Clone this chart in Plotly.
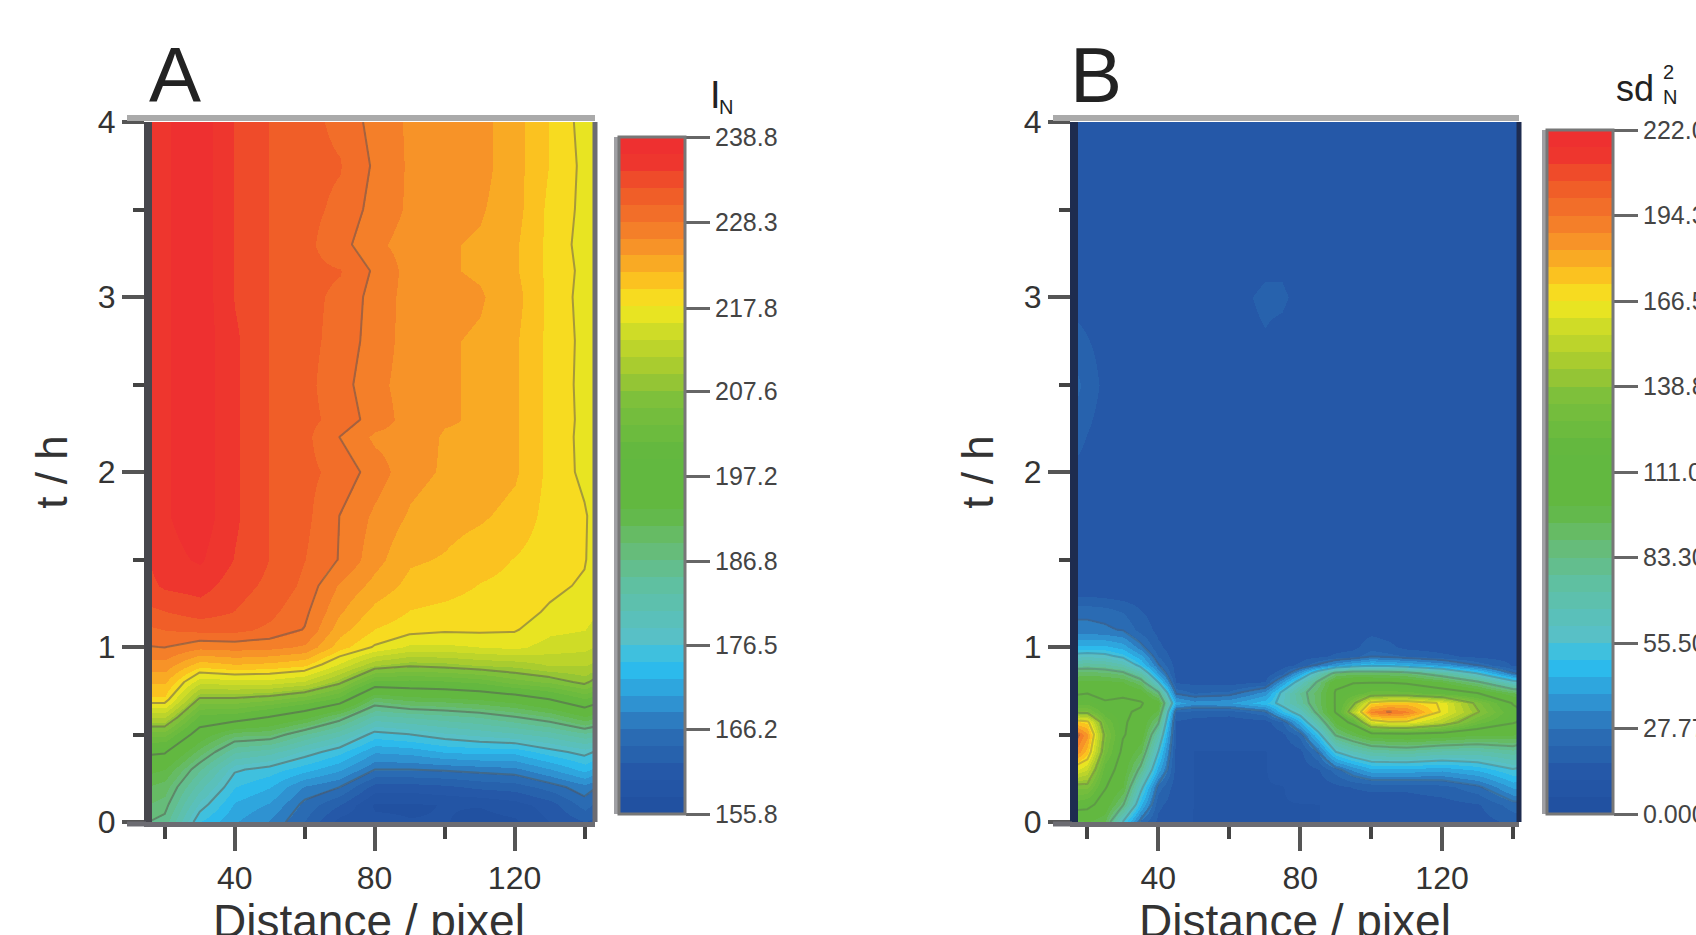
import plotly.graph_objects as go

W, H = 1696, 935
FONT = "Liberation Sans"

# ---- Panel A data: I_N per distance column, rows follow a_t ----
a_t = [0, .1, .2, .3, .4, .5, .6, .7, .8, .9, 1.0, 1.1, 1.2, 1.35, 1.5,
       1.75, 2, 2.2, 2.3, 2.5, 2.75, 3, 3.15, 3.3, 3.5, 3.75, 4]
a_x = [15, 20, 30, 40, 50, 60, 70, 80, 90, 100, 110, 120, 130, 140, 144]
a15 = [187, 189, 191, 194, 198, 204, 212, 219.5, 222.5, 225.5, 228.3, 230, 232, 234, 234.5,
       234.5, 235, 235, 235, 235.5, 235.5, 235, 235, 235, 235, 235, 235]
a20 = [186, 188, 190, 193, 197.7, 204, 212, 219.5, 222.5, 225.5, 228.5, 230.5, 232.5, 235, 236,
       236.5, 236.5, 236.5, 236.5, 236.5, 236.5, 236.5, 236.5, 236.5, 236.5, 236.5, 236.5]
a30 = [174.5, 178, 181.5, 185, 190, 195, 200.5, 207, 214.5, 221, 227, 231, 233.5, 235.5, 237,
       238, 238, 238, 238, 238, 238, 238, 238, 238, 238, 238, 238]
a40 = [170.5, 172, 174.5, 177, 183, 189.5, 200, 207, 215, 222, 227.3, 231, 232.5, 233.5, 234.5,
       235, 235, 235, 235, 235, 235, 234.5, 234.5, 234.5, 234.5, 234.5, 234.5]
a50 = [168, 170, 172.5, 175.5, 181.5, 189, 197.2, 205.8, 215, 221.5, 227, 230, 231, 232, 232.5,
       232.5, 232.5, 232.5, 232.5, 232.5, 232.5, 232.5, 232.5, 232.5, 232.5, 232.5, 232.5]
a60 = [164, 165.5, 168, 173, 178, 184.5, 194, 203.5, 213.5, 220.5, 226, 228.3, 229, 230, 230.5,
       231, 231, 231, 231, 231, 231, 231, 231, 231, 231, 231, 231]
a70 = [159, 162, 166.2, 170.5, 175, 181, 188.5, 200, 208.5, 215.5, 221, 223, 224.5, 226, 228.3,
       228.4, 229.9, 228.4, 229.9, 229.4, 229.9, 230.1, 230.6, 229.3, 230.1, 230.6, 230.1]
a80 = [158.5, 157.5, 161, 166.2, 170.5, 175.5, 182, 189.5, 200.5, 210, 217.8, 220, 221.5, 223.5, 225,
       225.9, 227.4, 225.9, 227.4, 226.9, 227.4, 227.6, 228.1, 226.8, 227.6, 228.1, 227.6]
a90 = [158, 157.5, 161, 166.2, 171, 176.5, 183, 191.5, 200.5, 208.5, 215.5, 219, 220, 221.5, 222.5,
       224, 225, 225.5, 225.5, 225.5, 225.5, 225.5, 225.5, 225.5, 226, 226, 226]
a100 = [158, 158, 161.5, 166.5, 172.5, 178, 184, 192, 201, 209, 215.5, 218.5, 219.5, 221, 222,
        223, 224, 224, 224.5, 224.5, 224.5, 225, 224.5, 224.5, 225, 225, 225]
a110 = [157, 158, 162.5, 167, 173, 179, 185, 193, 202, 210, 216, 218.5, 219, 220, 221,
        222.5, 223.5, 224, 224, 224, 224, 224.5, 224, 224, 224.5, 225, 225]
a120 = [157.5, 159, 163, 167.5, 173, 180, 186.8, 194.5, 204.5, 210.5, 216.5, 218.3, 218.8, 219.5, 220,
        221.5, 222.5, 222.5, 222.5, 222.5, 222.5, 223, 222.5, 222.5, 223, 223, 223]
a130 = [160, 161, 165, 170, 175.5, 181.5, 189, 197.2, 206, 212, 215, 216.5, 217.8, 218.5, 219,
        219.3, 219.5, 219.5, 219.5, 219.5, 219.5, 219.5, 219.5, 219.5, 219.5, 220, 220]
a140 = [162, 165, 167.5, 173, 177.5, 184, 193, 201, 208.5, 212, 214.5, 216, 216.8, 217.8, 218.2,
        218.3, 217.5, 217.4, 217.5, 217.4, 217.5, 217.3, 217.5, 217.2, 217.5, 217.5, 217.2]
a144 = [161, 163, 166, 171, 176, 183, 191, 199, 206, 211, 213.5, 215, 216, 216.5, 217,
        217, 216.5, 216, 216, 216, 216, 216, 216, 216, 216, 216, 216]

# ---- Panel B data: sd2_N per distance column, rows follow b_t ----
b_t = [0, .1, .2, .3, .4, .5, .57, .63, .68, .74, .8, .85, .9, .95, 1, 1.1, 1.2, 1.3, 1.5, 2, 2.5, 3, 3.5, 4]
b_x = [15, 20, 25, 30, 35, 40, 45, 50, 60, 70, 75, 80, 85, 90, 95, 100, 105, 110, 120, 130, 140, 144]
b15 = [95, 120, 135, 165, 195, 205, 175, 135, 118, 108, 100, 90, 75, 58, 45, 30, 26, 16, 12, 16, 26, 14, 14, 12]
b20 = [100, 115, 135, 155, 175, 185, 170, 135, 120, 110, 102, 92, 76, 60, 46, 30, 26, 16, 13, 14, 20, 14, 14, 13]
b25 = [95, 105, 112, 118, 130, 135, 128, 118, 112, 108, 102, 90, 74, 58, 46, 29, 25, 15, 13, 13, 15, 14, 14, 13]
b30 = [55, 85, 100, 105, 108, 112, 112, 112, 112, 110, 100, 86, 68, 52, 42, 27, 22, 14, 13, 13, 14, 14, 14, 13]
b35 = [25, 45, 60, 80, 95, 105, 108, 110, 112, 105, 90, 70, 50, 40, 30, 20, 17, 13, 13, 13, 14, 14, 14, 13]
b40 = [15, 18, 25, 42, 55, 70, 85, 98, 105, 85, 55, 38, 28, 22, 18, 15, 14, 13, 13, 14, 14, 15, 14, 13]
b45 = [12, 13, 13, 14, 14, 15, 16, 22, 42, 26, 16, 14, 14, 13, 13, 13, 13, 13, 13, 14, 14, 15, 14, 14]
b50 = [11, 11, 11, 11, 11, 12, 14, 20, 36, 22, 15, 14, 13, 13, 13, 13, 13, 13, 14, 14, 15, 15, 15, 14]
b60 = [11, 11, 11, 11, 11, 12, 13, 19, 38, 24, 14, 13, 13, 13, 13, 13, 13, 13, 14, 14, 16, 16, 15, 14]
b70 = [11, 11, 11, 11, 11, 12, 14, 26, 48, 36, 17, 13, 13, 13, 13, 13, 13, 13, 14, 14, 16, 17, 15, 14]
b75 = [11, 11, 11, 12, 12, 15, 22, 48, 60, 58, 38, 20, 14, 13, 13, 13, 13, 13, 14, 14, 15, 17, 15, 14]
b80 = [11, 11, 12, 13, 15, 24, 44, 62, 75, 78, 62, 40, 18, 14, 13, 13, 13, 13, 14, 14, 14, 16, 14, 13]
b85 = [11, 11, 13, 16, 28, 50, 72, 88, 92, 92, 85, 65, 28, 15, 13, 13, 13, 13, 13, 14, 14, 14, 14, 13]
b90 = [12, 12, 15, 25, 55, 85, 102, 112, 112, 112, 108, 88, 38, 18, 14, 13, 13, 13, 13, 13, 13, 14, 13, 13]
b95 = [12, 12, 17, 34, 65, 95, 115, 150, 135, 118, 110, 92, 45, 20, 15, 14, 13, 13, 13, 13, 13, 14, 13, 13]
b100 = [12, 13, 18, 42, 72, 105, 160, 190, 170, 125, 110, 92, 50, 26, 20, 15, 13, 13, 12, 13, 13, 13, 12, 12]
b105 = [12, 13, 18, 42, 74, 106, 165, 195, 175, 125, 110, 90, 48, 24, 18, 14, 13, 13, 12, 12, 12, 12, 12, 12]
b110 = [12, 13, 18, 42, 75, 108, 165, 190, 175, 125, 108, 88, 45, 22, 15, 13, 13, 12, 12, 12, 12, 12, 12, 12]
b120 = [13, 14, 20, 40, 70, 105, 150, 165, 165, 118, 100, 75, 38, 18, 14, 13, 12, 12, 12, 12, 12, 12, 12, 12]
b130 = [14, 16, 26, 45, 70, 100, 125, 140, 135, 110, 85, 55, 26, 15, 13, 12, 12, 12, 12, 12, 12, 12, 12, 12]
b140 = [18, 25, 40, 55, 75, 100, 112, 115, 110, 95, 60, 28, 16, 14, 12, 12, 12, 12, 12, 12, 12, 12, 12, 12]
b144 = [20, 26, 40, 52, 70, 95, 108, 110, 105, 90, 55, 26, 15, 13, 12, 12, 12, 12, 12, 12, 12, 12, 12, 12]

a_ticks = [155.8, 166.2, 176.5, 186.8, 197.2, 207.6, 217.8, 228.3, 238.8]
b_ticks = [0.0, 27.77, 55.5, 83.3, 111.0, 138.8, 166.5, 194.3, 222.0]
a_ticktext = ["155.8", "166.2", "176.5", "186.8", "197.2", "207.6", "217.8", "228.3", "238.8"]
b_ticktext = ["0.000", "27.77", "55.50", "83.30", "111.0", "138.8", "166.5", "194.3", "222.0"]

# ---- stepped rainbow colour scale ----
ANCH = [(0, "#2050a0"), (.06, "#2558a8"), (.12, "#2b6eb5"), (.16, "#3090d0"), (.22, "#2cc0f0"),
        (.26, "#58c0c8"), (.34, "#60c0a0"), (.40, "#68bc70"), (.45, "#62b840"), (.53, "#62b840"),
        (.61, "#7cc03c"), (.65, "#a0c832"), (.71, "#cddc28"), (.75, "#f5e820"), (.79, "#fcc020"),
        (.83, "#f89a28"), (.87, "#f47a2a"), (.92, "#f05a28"), (.97, "#ee3030"), (1, "#ee3030")]


def col_at(f):
    for (f0, c0), (f1, c1) in zip(ANCH, ANCH[1:]):
        if f <= f1:
            s = (f - f0) / (f1 - f0)
            p = [int(c0[i:i + 2], 16) * (1 - s) + int(c1[i:i + 2], 16) * s for i in (1, 3, 5)]
            return "rgb(%d,%d,%d)" % tuple(p)
    return ANCH[-1][1]


STEPS = 40
cscale = []
for i in range(STEPS):
    c = col_at((i + .5) / STEPS)
    cscale += [[i / STEPS, c], [(i + 1) / STEPS, c]]


def rows(cols):
    return [list(r) for r in zip(*cols)]


def px(v):
    return v / W


def py(v):
    return 1 - v / H


# pixel layout
TOP, BOT = 122, 822
A_L, A_R = 149, 595
B_L, B_R = 1075, 1519

fig = go.Figure()


def panel(x, y, z, zmin, zmax, size, tv, tt, cb_l, cb_top, cb_bot, xa, ya, alpha):
    fig.add_trace(go.Heatmap(
        x=x, y=y, z=z, zmin=zmin, zmax=zmax, zauto=False, colorscale=cscale, xaxis=xa, yaxis=ya, zsmooth="best",
        colorbar=dict(x=px(cb_l), xanchor="left", xpad=0, ypad=0, y=py(cb_bot), yanchor="bottom",
                      len=(cb_bot - cb_top) / H, lenmode="fraction", thickness=66, thicknessmode="pixels",
                      tickmode="array", tickvals=tv, ticktext=tt, ticks="outside", ticklen=24, tickwidth=3,
                      tickcolor="#666", outlinecolor="#777", outlinewidth=3,
                      tickfont=dict(family=FONT, size=25, color="#444")),
    ))
    fig.add_trace(go.Contour(
        x=x, y=y, z=z, xaxis=xa, yaxis=ya, showscale=False, autocontour=False, hoverinfo="skip",
        contours=dict(start=zmin + size, end=zmax - size, size=size, coloring="none", showlines=True),
        line=dict(color="rgba(85,85,85,%s)" % alpha, width=2, smoothing=0),
    ))


panel(a_x, a_t, rows([a15, a20, a30, a40, a50, a60, a70, a80, a90, a100, a110, a120, a130, a140, a144]),
      155.8, 238.8, 10.375, a_ticks, a_ticktext, 619, 137, 814, "x", "y", 0.5)
panel(b_x, b_t, rows([b15, b20, b25, b30, b35, b40, b45, b50, b60, b70, b75, b80, b85, b90, b95, b100,
                      b105, b110, b120, b130, b140, b144]),
      0, 222, 27.75, b_ticks, b_ticktext, 1547, 130, 814, "x2", "y2", 0.3)

xstyle = dict(tickmode="array", tickvals=[40, 80, 120], ticks="outside", ticklen=24, tickwidth=4, tickcolor="#555",
              minor=dict(tickmode="array", tickvals=[20, 60, 100, 140], ticks="outside", ticklen=12, tickwidth=4,
                         tickcolor="#444"),
              showgrid=False, zeroline=False, showline=True, linecolor="#6c6c72", linewidth=5,
              tickfont=dict(family=FONT, size=32, color="#333"))
ystyle = dict(tickmode="array", tickvals=[0, 1, 2, 3, 4], range=[0, 4], ticks="outside", ticklen=22, tickwidth=4,
              tickcolor="#555", minor=dict(tickmode="array", tickvals=[.5, 1.5, 2.5, 3.5], ticks="outside",
                                           ticklen=11, tickwidth=4, tickcolor="#444"),
              showgrid=False, zeroline=False, showline=True, linewidth=5,
              tickfont=dict(family=FONT, size=32, color="#333"),
              title=dict(text="t / h", font=dict(family=FONT, size=44, color="#333"), standoff=18))

dom_y = [py(BOT), py(TOP)]
frame = []
for L, R, rc, lc in [(A_L, A_R, "#6c6c72", "#47474d"), (B_L, B_R, "#1e2c50", "#1e2c50")]:
    frame += [dict(type="line", xref="paper", yref="paper", x0=px(L - 22), x1=px(R), y0=py(TOP - 4), y1=py(TOP - 4),
                   line=dict(color="#aaaaaa", width=6)),
              dict(type="line", xref="paper", yref="paper", x0=px(L - 22), x1=px(L), y0=py(BOT + 2), y1=py(BOT + 2),
                   line=dict(color="#6c6c72", width=5)),
              dict(type="line", xref="paper", yref="paper", x0=px(L), x1=px(L), y0=py(BOT), y1=py(TOP),
                   line=dict(color=lc, width=6)),
              dict(type="line", xref="paper", yref="paper", x0=px(R), x1=px(R), y0=py(BOT), y1=py(TOP),
                   line=dict(color=rc, width=5))]
for L, R, T, B in [(619, 686, 137, 814), (1547, 1612, 130, 814)]:
    frame += [dict(type="line", xref="paper", yref="paper", x0=px(L - 2), x1=px(L - 2), y0=py(B), y1=py(T),
                   line=dict(color="#a0a0a4", width=6))]

ann = [dict(text="A", x=px(147), y=py(75), font=dict(size=78)),
       dict(text="B", x=px(1068), y=py(75), font=dict(size=78)),
       dict(text="I", x=px(708), y=py(95), font=dict(size=38)),
       dict(text="N", x=px(717), y=py(107), font=dict(size=20)),
       dict(text="sd", x=px(1614), y=py(88), font=dict(size=36)),
       dict(text="2", x=px(1661), y=py(72), font=dict(size=20)),
       dict(text="N", x=px(1661), y=py(97), font=dict(size=20)),
       dict(text="Distance / pixel", x=px(211), y=py(921), font=dict(size=46, color="#333")),
       dict(text="Distance / pixel", x=px(1137), y=py(921), font=dict(size=46, color="#333"))]
for a in ann:
    a.update(xref="paper", yref="paper", showarrow=False, xanchor="left", yanchor="middle")
    a["font"] = dict(family=FONT, color=a["font"].get("color", "#222"), size=a["font"]["size"])

fig.update_layout(
    width=W, height=H, margin=dict(l=0, r=0, t=0, b=0, autoexpand=False), paper_bgcolor="white", plot_bgcolor="white",
    showlegend=False, shapes=frame, annotations=ann,
    xaxis=dict(domain=[px(A_L), px(A_R)], range=[15.5, 143], anchor="y", **xstyle),
    yaxis=dict(domain=dom_y, anchor="x", linecolor="#47474d", **ystyle),
    xaxis2=dict(domain=[px(B_L), px(B_R)], range=[16.5, 141.7], anchor="y2", **xstyle),
    yaxis2=dict(domain=dom_y, anchor="x2", linecolor="#1e2c50", **ystyle),
)

fig.write_html("out.html", config=dict(displayModeBar=False),
               post_script="document.body.style.margin='0';document.body.style.overflow='hidden';")
